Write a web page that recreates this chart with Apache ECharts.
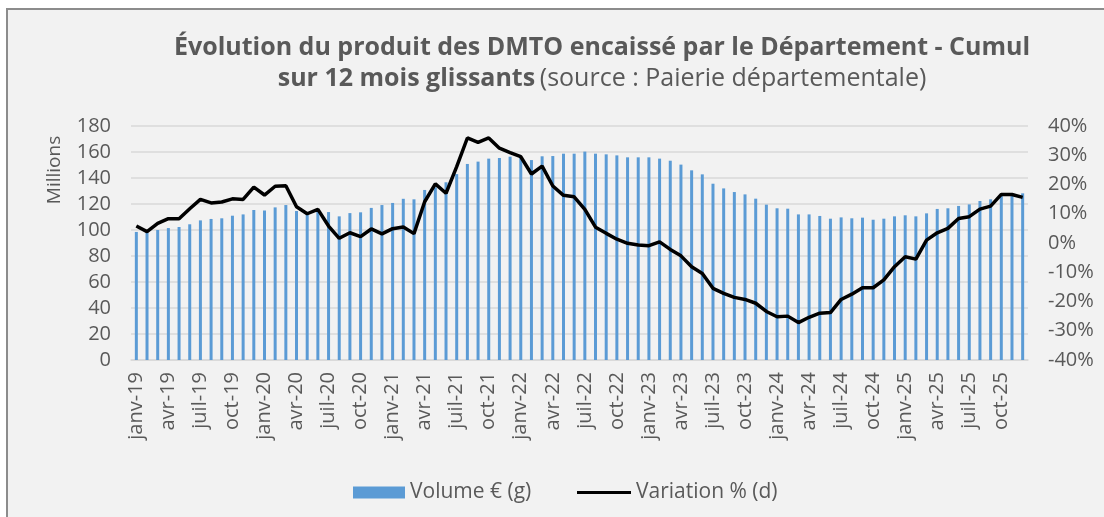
<!DOCTYPE html>
<html>
<head>
<meta charset="utf-8">
<script src="https://cdn.jsdelivr.net/npm/echarts@6/dist/echarts.min.js"></script>
<style>
  html, body { margin: 0; padding: 0; background: #fff; }
  #chart { width: 1104px; height: 517px; }
</style>
</head>
<body>
<div id="chart"></div>
<script>
// mois janv-19 .. déc-25
const moisNoms = ['janv', 'févr', 'mars', 'avr', 'mai', 'juin', 'juil', 'août', 'sept', 'oct', 'nov', 'déc']
const annees = ['19', '20', '21', '22', '23', '24', '25']
const categories = []
annees.forEach(a => moisNoms.forEach(m => categories.push(m + '-' + a)))

// Volume cumulé 12 mois (millions €)
const volume = [
  98.5, 98, 100, 101.5, 102.3, 104.4, 107.4, 108.5, 109, 111, 112, 115.4,
  115, 117.4, 119.2, 114.6, 111.8, 114, 113.8, 110.5, 113, 113.6, 117, 119.2,
  120.8, 124, 123.6, 130.8, 132.8, 136.7, 143, 150.8, 152.6, 154.9, 155.4, 156.4,
  156, 153.8, 156.7, 156.9, 158.7, 158.7, 160.3, 158.7, 158.2, 157.4, 155.9, 155.9,
  155.9, 154.9, 153.3, 150.3, 145.9, 142.8, 135.6, 132, 129.2, 127.4, 124.1, 119.5,
  116.7, 116.4, 112, 112, 110.8, 108.7, 109.7, 109, 109.5, 107.9, 108.7, 110.5,
  111.3, 110.5, 112.8, 116.2, 116.7, 118.5, 119.7, 122.3, 123.6, 127.4, 126.7, 128.2
]

// Variation en %
const variation = [
  5.8, 3.9, 6.7, 8.3, 8.3, 11.7, 14.9, 13.7, 14, 15.1, 14.9, 19.1,
  16.4, 19.4, 19.6, 12.4, 10, 11.5, 5.8, 1.6, 3.5, 2.2, 4.8, 3.1,
  4.9, 5.5, 3.2, 14.1, 20.2, 17, 26.1, 35.9, 34.4, 35.9, 32.4, 30.9,
  29.5, 23.6, 26.3, 19.5, 16.3, 15.8, 11.5, 5.4, 3.3, 1.3, -0.1, -0.7,
  -0.9, 0.4, -2.2, -4.4, -8.1, -10.4, -15.5, -17.2, -18.6, -19.3, -20.6, -23.4,
  -25.2, -25, -27.2, -25.4, -24, -23.8, -19.3, -17.5, -15.3, -15.3, -12.6, -8.1,
  -4.7, -5.5, 1, 3.5, 5, 8.4, 9, 11.6, 12.6, 16.6, 16.6, 15.6
]

const font = 'Open Sans'
const grey = '#595959'

let chart = echarts.init(document.getElementById('chart'))
let option = {
  animation: false,
  textStyle: {fontFamily: font, color: grey},
  graphic: [
    {
      type: 'rect', z: -10, silent: true,
      shape: {x: 7, y: 9, width: 1120, height: 530},
      style: {fill: '#f2f2f2', stroke: '#8c8c8c', lineWidth: 2}
    },
    {
      type: 'text', x: 55, y: 170, rotation: Math.PI / 2,
      style: {text: 'Millions', font: '19px "' + font + '"', fill: grey, textAlign: 'center', textVerticalAlign: 'middle'}
    }
  ],
  title: {
    left: 597, top: 27, textAlign: 'center',
    text: '{b|Évolution du produit des DMTO encaissé par le Département - Cumul}\n{b|sur 12 mois glissants} {n|(source : Paierie départementale)}',
    textStyle: {
      fontWeight: 'normal',
      rich: {
        b: {fontFamily: font, fontSize: 25, fontWeight: 'bold', color: grey, lineHeight: 31},
        n: {fontFamily: font, fontSize: 25, fontWeight: 'normal', color: grey, lineHeight: 31}
      }
    }
  },
  legend: [
    {
      left: 348, top: 477,
      itemWidth: 52, itemHeight: 12,
      textStyle: {fontFamily: font, fontSize: 21, color: grey},
      data: [{name: 'Volume € (g)', icon: 'rect'}]
    },
    {
      left: 572, top: 477,
      itemWidth: 54, itemHeight: 3,
      textStyle: {fontFamily: font, fontSize: 21, color: grey},
      data: [{name: 'Variation % (d)', icon: 'rect'}]
    }
  ],
  grid: {left: 131, right: 76, top: 126, bottom: 157},
  xAxis: {
    type: 'category',
    data: categories,
    axisLine: {lineStyle: {color: '#d9d9d9', width: 1.5}},
    axisTick: {interval: 2, length: 5, lineStyle: {color: '#d9d9d9'}},
    axisLabel: {interval: 2, rotate: 90, margin: 12, fontSize: 20, color: grey, fontFamily: font}
  },
  yAxis: [
    {
      type: 'value', min: 0, max: 180, interval: 20,
      axisLabel: {fontSize: 20, color: grey, margin: 20, fontFamily: font},
      splitLine: {lineStyle: {color: '#d9d9d9', width: 1.5}}
    },
    {
      type: 'value', min: -40, max: 40, interval: 10,
      axisLabel: {fontSize: 20, color: grey, margin: 20, fontFamily: font, formatter: '{value}%'},
      splitLine: {show: false}
    }
  ],
  series: [
    {
      name: 'Volume € (g)',
      type: 'bar',
      data: volume,
      barWidth: 3,
      itemStyle: {color: '#5b9bd5'}
    },
    {
      name: 'Variation % (d)',
      type: 'line',
      yAxisIndex: 1,
      data: variation,
      symbol: 'none',
      lineStyle: {color: '#000', width: 3.5},
      itemStyle: {color: '#000'}
    }
  ]
}
chart.setOption(option)
</script>
</body>
</html>
